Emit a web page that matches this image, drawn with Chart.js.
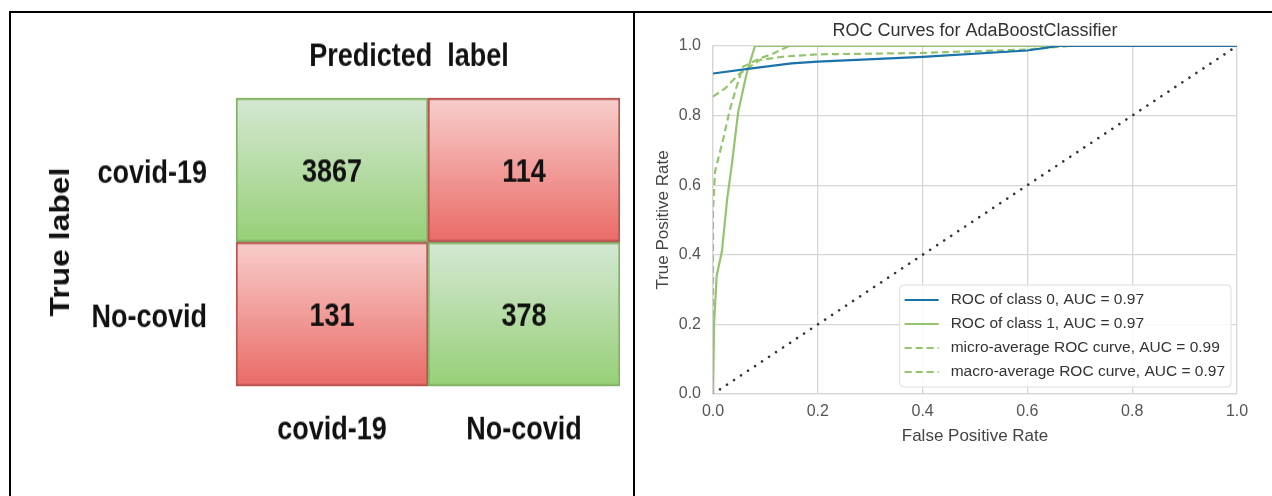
<!DOCTYPE html>
<html>
<head>
<meta charset="utf-8">
<script src="https://cdn.jsdelivr.net/npm/chart.js@4.4.1/dist/chart.umd.min.js"></script>
<style>
  body { margin: 0; background: #fff; width: 1272px; height: 496px; overflow: hidden; position: relative; }
  .rule { position: absolute; background: #000; }
  #cmBox { position: absolute; left: 12px; top: 14px; }
  #rocBox { position: absolute; left: 636px; top: 14px; }
</style>
</head>
<body>
<div class="rule" style="left:9px;top:11px;width:1263px;height:2px"></div>
<div class="rule" style="left:9px;top:11px;width:2px;height:485px"></div>
<div class="rule" style="left:633px;top:11px;width:2px;height:485px"></div>
<div id="cmBox"><canvas id="cm" width="620" height="408" style="width:620px;height:482px"></canvas></div>
<div id="rocBox"><canvas id="roc" width="636" height="482"></canvas></div>
<script>
// Confusion matrix data
var predictedLabels = ['covid-19', 'No-covid'];
var trueLabels = ['covid-19', 'No-covid'];
var countsTrueCovid = [3867, 114];
var countsTrueNoCovid = [131, 378];

// ROC curve data
var fprClass0 = [0, 0.07, 0.15, 0.2, 0.4, 0.6, 0.66, 1];
var tprClass0 = [0.921, 0.935, 0.95, 0.955, 0.969, 0.987, 1, 1];
var fprClass1 = [0, 0.002, 0.007, 0.017, 0.027, 0.036, 0.048, 0.064, 0.08, 1];
var tprClass1 = [0, 0.2, 0.34, 0.41, 0.56, 0.66, 0.81, 0.92, 1, 1];
var fprMicro = [0, 0, 0.004, 0.019, 0.032, 0.045, 0.057, 0.09, 0.112, 0.145, 1];
var tprMicro = [0, 0.53, 0.64, 0.73, 0.816, 0.883, 0.94, 0.965, 0.976, 1, 1];
var fprMacro = [0, 0.023, 0.048, 0.067, 0.09, 0.137, 0.2, 0.4, 0.6, 0.68, 1];
var tprMacro = [0.855, 0.878, 0.917, 0.937, 0.96, 0.97, 0.976, 0.98, 0.99, 1, 1];
var chanceX = [0, 1];
var chanceY = [0, 1];
var aucClass0 = 0.97;
var aucClass1 = 0.97;
var aucMicro = 0.99;
var aucMacro = 0.97;

var sans = 'Liberation Sans, Arial, sans-serif';

// ---------- confusion matrix ----------
var rowCounts = [countsTrueCovid, countsTrueNoCovid];
var nRows = trueLabels.length;

// draw.io style gradient fill: green on the diagonal, red elsewhere
function cellFill(context) {
    var chart = context.chart;
    var good = context.datasetIndex === context.dataIndex;
    var top = good ? '#d5e8d4' : '#f8cecc';
    var bottom = good ? '#97d077' : '#ea6b66';
    if (!chart.chartArea || !context.raw) {
        return bottom;
    }
    var yScale = chart.scales.y;
    var y0 = yScale.getPixelForValue(context.raw[1]);
    var y1 = yScale.getPixelForValue(context.raw[0]);
    var g = chart.ctx.createLinearGradient(0, y0, 0, y1);
    g.addColorStop(0, top);
    g.addColorStop(1, bottom);
    return g;
}

var cellValues = {
    id: 'cellValues',
    afterDatasetsDraw: function(chart) {
        var ctx = chart.ctx;
        ctx.save();
        ctx.font = 'bold 27px ' + sans;
        ctx.fillStyle = '#111';
        ctx.textAlign = 'center';
        ctx.textBaseline = 'middle';
        chart.data.datasets.forEach(function(ds, i) {
            chart.getDatasetMeta(i).data.forEach(function(bar, j) {
                var p = bar.getProps(['x', 'y', 'base'], true);
                ctx.fillText(String(ds.counts[j]), p.x, (p.y + p.base) / 2 + 3);
            });
        });
        ctx.restore();
    }
};

var header = {
    id: 'header',
    afterDraw: function(chart, args, opts) {
        var ctx = chart.ctx;
        ctx.save();
        ctx.font = opts.font;
        ctx.fillStyle = opts.color;
        ctx.textAlign = 'center';
        ctx.textBaseline = 'middle';
        ctx.fillText(opts.text, opts.x, opts.y);
        ctx.restore();
    }
};

new Chart(document.getElementById('cm'), {
    type: 'bar',
    data: {
        labels: predictedLabels,
        datasets: trueLabels.map(function(label, i) {
            return {
                label: label,
                counts: rowCounts[i],
                data: predictedLabels.map(function() { return [nRows - 1 - i, nRows - i]; }),
                backgroundColor: cellFill,
                borderColor: function(c) { return c.datasetIndex === c.dataIndex ? '#82b366' : '#b85450'; },
                borderWidth: 2,
                borderSkipped: false,
                grouped: false,
                categoryPercentage: 1,
                barPercentage: 1
            };
        })
    },
    plugins: [cellValues, header],
    options: {
        responsive: false,
        animation: false,
        layout: { padding: { top: 71, right: 12, left: 0, bottom: 0 } },
        plugins: {
            legend: { display: false },
            tooltip: { enabled: false },
            header: { text: 'Predicted  label', x: 397, y: 36.5, font: 'bold 27px ' + sans, color: '#111' }
        },
        scales: {
            x: {
                grid: { display: false, drawTicks: false },
                border: { display: false },
                ticks: { color: '#111', font: { family: sans, size: 27, weight: 'bold' }, padding: 21 },
                afterFit: function(s) { s.height = 93; }
            },
            y: {
                min: 0,
                max: nRows,
                grid: { display: false, drawTicks: false },
                border: { display: false },
                afterBuildTicks: function(s) {
                    s.ticks = trueLabels.map(function(_, i) { return { value: nRows - 1 - i + 0.5 }; });
                },
                ticks: {
                    color: '#111',
                    font: { family: sans, size: 27, weight: 'bold' },
                    padding: 29,
                    labelOffset: 4,
                    callback: function(v) { return trueLabels[nRows - 1 - Math.floor(v)]; }
                },
                title: {
                    display: true,
                    text: 'True label',
                    color: '#111',
                    font: { family: sans, size: 27, weight: 'bold' },
                    padding: { top: 33, bottom: 0 }
                },
                afterFit: function(s) { s.width = 224; }
            }
        }
    }
});

// ---------- ROC curves ----------
function points(xs, ys) {
    return xs.map(function(x, i) { return { x: x, y: ys[i] }; });
}

var blue = '#1a72aa';
var green = '#94c56e';

var insideLegend = {
    id: 'insideLegend',
    afterDatasetsDraw: function(chart, args, opts) {
        var ctx = chart.ctx;
        var area = chart.chartArea;
        var items = chart.data.datasets.filter(function(d) { return d.label; });
        ctx.save();
        ctx.font = opts.font;
        var textW = Math.max.apply(null, items.map(function(d) { return ctx.measureText(d.label).width; }));
        var w = 5 + 34 + 12 + textW + 6;
        var h = items.length * 24 + 6;
        var right = area.right - 6;
        var bottom = area.bottom - 7;
        var left = right - w;
        var top = bottom - h;
        ctx.beginPath();
        ctx.roundRect(left, top, w, h, 4);
        ctx.fillStyle = 'rgba(255,255,255,0.85)';
        ctx.fill();
        ctx.strokeStyle = '#dedede';
        ctx.lineWidth = 1;
        ctx.stroke();
        items.forEach(function(d, i) {
            var cy = top + 3 + 12 + i * 24;
            ctx.beginPath();
            ctx.setLineDash(d.borderDash || []);
            ctx.strokeStyle = d.borderColor;
            ctx.lineWidth = d.borderWidth;
            ctx.moveTo(left + 5, cy);
            ctx.lineTo(left + 39, cy);
            ctx.stroke();
            ctx.setLineDash([]);
            ctx.fillStyle = '#333';
            ctx.textAlign = 'left';
            ctx.textBaseline = 'middle';
            ctx.fillText(d.label, left + 51, cy);
        });
        ctx.restore();
    }
};

new Chart(document.getElementById('roc'), {
    type: 'line',
    data: {
        datasets: [
            { label: 'ROC of class 0, AUC = ' + aucClass0.toFixed(2), data: points(fprClass0, tprClass0), borderColor: blue, borderWidth: 2.2 },
            { label: 'ROC of class 1, AUC = ' + aucClass1.toFixed(2), data: points(fprClass1, tprClass1), borderColor: green, borderWidth: 2.2 },
            { label: 'micro-average ROC curve, AUC = ' + aucMicro.toFixed(2), data: points(fprMicro, tprMicro), borderColor: green, borderWidth: 2.2, borderDash: [7, 4] },
            { label: 'macro-average ROC curve, AUC = ' + aucMacro.toFixed(2), data: points(fprMacro, tprMacro), borderColor: green, borderWidth: 2.2, borderDash: [7, 4] },
            { label: '', data: points(chanceX, chanceY), borderColor: '#333', borderWidth: 2.6, borderDash: [0.01, 8.4], borderCapStyle: 'round' }
        ]
    },
    plugins: [insideLegend],
    options: {
        responsive: false,
        animation: false,
        layout: { padding: { left: 0, right: 35, top: 0, bottom: 42 } },
        elements: { point: { radius: 0 }, line: { tension: 0, fill: false } },
        plugins: {
            legend: { display: false },
            tooltip: { enabled: false },
            insideLegend: { font: '15.5px ' + sans },
            title: {
                display: true,
                fullSize: false,
                text: 'ROC Curves for AdaBoostClassifier',
                color: '#333',
                font: { family: sans, size: 18, weight: 'normal' },
                padding: { top: 6.5, bottom: 3.9 }
            }
        },
        scales: {
            x: {
                type: 'linear',
                min: 0,
                max: 1,
                grid: { color: '#d6d6d6', lineWidth: 1.3, drawTicks: false },
                border: { color: '#d6d6d6', width: 1.3 },
                ticks: { stepSize: 0.2, color: '#555', font: { family: sans, size: 16 }, padding: 8.4,
                         callback: function(v) { return v.toFixed(1); } },
                title: { display: true, text: 'False Positive Rate', color: '#444', font: { family: sans, size: 17 },
                         padding: { top: 0, bottom: 7.8 } },
                afterFit: function(s) { s.height = 60; }
            },
            y: {
                min: 0,
                max: 1,
                grid: { color: '#d6d6d6', lineWidth: 1.3, drawTicks: false },
                border: { color: '#d6d6d6', width: 1.3 },
                ticks: { stepSize: 0.2, color: '#555', font: { family: sans, size: 16 }, padding: 12,
                         callback: function(v) { return v.toFixed(1); } },
                title: { display: true, text: 'True Positive Rate', color: '#444', font: { family: sans, size: 17 },
                         padding: { top: 16.8, bottom: 0 } },
                afterFit: function(s) { s.width = 77; }
            }
        }
    }
});
</script>
</body>
</html>
